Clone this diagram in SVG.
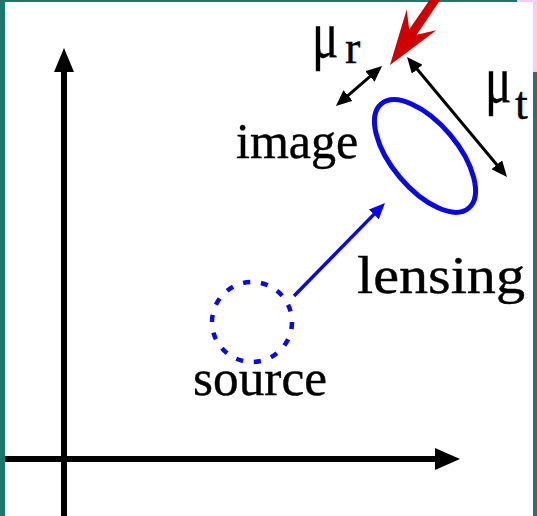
<svg xmlns="http://www.w3.org/2000/svg" width="537" height="516" viewBox="0 0 537 516">
  <style>
    .lbl { font-family: "Liberation Serif", "Times New Roman", serif; fill: #000; stroke: #000; stroke-width: 0.4; }
    .ax { stroke: #000; stroke-width: 6; fill: none; }
    .blk { stroke: #000; stroke-width: 3; fill: none; }
    .blu { stroke: #0a0ae0; fill: none; }
  </style>
  <defs>
    <marker id="hk" viewBox="0 0 16 14" markerWidth="16" markerHeight="14" refX="4" refY="7" orient="auto-start-reverse" markerUnits="userSpaceOnUse">
      <path d="M0,0 L16,7 L0,14 z" fill="#000"/>
    </marker>
    <marker id="hb" viewBox="0 0 16 14" markerWidth="16" markerHeight="14" refX="4" refY="7" orient="auto" markerUnits="userSpaceOnUse">
      <path d="M0,0 L16,7 L0,14 z" fill="#0a0ae0"/>
    </marker>
  </defs>
  <rect x="0" y="0" width="537" height="516" fill="#1f776a"/>
  <rect x="517" y="0" width="20" height="72" fill="#f8cdf3"/>
  <rect x="5" y="2" width="528" height="514" fill="#ffffff"/>

  <g id="axes">
    <line class="ax" x1="64" y1="516" x2="64" y2="70"/>
    <polygon points="64,48 74,72 54,72" fill="#000"/>
    <line class="ax" x1="5" y1="459" x2="437" y2="459"/>
    <polygon points="460,459 435,448 435,470" fill="#000"/>
  </g>

  <g id="source">
    <circle class="blu" cx="252" cy="322" r="40" stroke-width="4.5" pathLength="280" stroke-dasharray="8 12"/>
    <text class="lbl" x="193" y="395" font-size="50" textLength="134" lengthAdjust="spacingAndGlyphs">source</text>
  </g>

  <g id="image">
    <ellipse class="blu" cx="425" cy="156" rx="68" ry="33" stroke-width="5" transform="rotate(50 425 156)"/>
    <text class="lbl" x="236" y="158" font-size="50">image</text>
  </g>

  <g id="connectors">
    <line class="blu" x1="294" y1="296" x2="376.6" y2="211.6" stroke-width="3.5" marker-end="url(#hb)"/>
    <line class="blk" x1="345" y1="98.1" x2="373" y2="73.9" marker-start="url(#hk)" marker-end="url(#hk)"/>
    <line class="blk" x1="414.7" y1="66.2" x2="499.3" y2="167.8" marker-start="url(#hk)" marker-end="url(#hk)"/>
  </g>

  <g id="labels">
    <text class="lbl" x="357" y="293" font-size="52" textLength="168" lengthAdjust="spacingAndGlyphs">lensing</text>
    <text class="lbl" font-size="58" transform="translate(312 57) scale(0.85 1.12)">μ</text>
    <text class="lbl" x="345" y="63" font-size="46">r</text>
    <text class="lbl" font-size="58" transform="translate(485 102) scale(0.85 1.12)">μ</text>
    <text class="lbl" x="515" y="119" font-size="46">t</text>
  </g>

  <g id="pointer">
    <polygon points="390,65 406.7,9.6 409.2,29.6 446,-24 453,-19 416.6,34.8 436.3,30.2" fill="#d00000"/>
  </g>
</svg>
